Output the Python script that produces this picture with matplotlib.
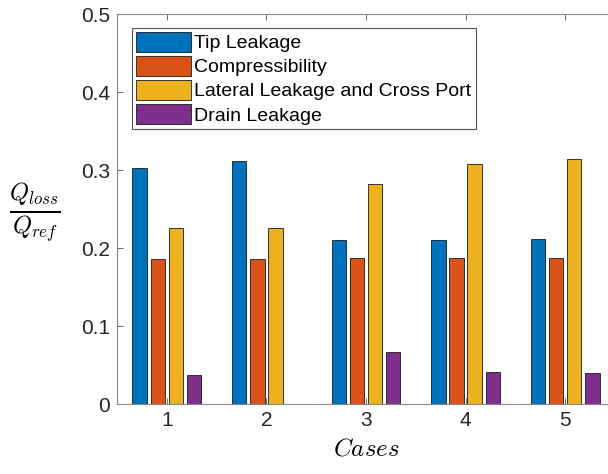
import matplotlib
matplotlib.use("Agg")
import matplotlib.pyplot as plt
import numpy as np

# data
cases = [1, 2, 3, 4, 5]
tipLeakage = [0.302, 0.312, 0.210, 0.210, 0.211]
compressibility = [0.1855, 0.1855, 0.187, 0.187, 0.187]
lateralCross = [0.226, 0.226, 0.282, 0.308, 0.314]
drainLeakage = [0.0376, 0.0005, 0.067, 0.0415, 0.040]
seriesNames = ["Tip Leakage", "Compressibility",
               "Lateral Leakage and Cross Port", "Drain Leakage"]

colors = ["#0072BD", "#D95319", "#EDB120", "#7E2F8E"]
axisColor = "#262626"

plt.rcParams['font.family'] = ['Liberation Sans', 'DejaVu Sans']
plt.rcParams['mathtext.fontset'] = 'cm'

fig = plt.figure(figsize=(6.08, 4.74), dpi=100)
# right edge intentionally just past the figure, like the cropped original
ax = fig.add_axes([117 / 608, 1 - 404 / 474, 498 / 608, 390 / 474])

allSeries = [tipLeakage, compressibility, lateralCross, drainLeakage]
nBars = len(allSeries)
groupWidth = min(0.8, nBars / (nBars + 1.5))
slot = groupWidth / nBars
barWidth = 0.8 * slot
x = np.array(cases, dtype=float)
for idx, (vals, name) in enumerate(zip(allSeries, seriesNames)):
    offset = (idx - (nBars - 1) / 2) * slot
    ax.bar(x + offset, vals, width=barWidth, color=colors[idx],
           edgecolor="#1a1a1a", linewidth=0.6, label=name, zorder=2)

ax.set_xlim(0.5, 5.5)
ax.set_ylim(0, 0.5)
ax.set_xticks(cases)
ax.set_yticks([0, 0.1, 0.2, 0.3, 0.4, 0.5])
ax.set_yticklabels(["0", "0.1", "0.2", "0.3", "0.4", "0.5"])
ax.tick_params(direction="in", length=4, width=0.6, colors="#555555",
               labelcolor=axisColor, labelsize=15, top=True, right=True, pad=5)
for side in ax.spines.values():
    side.set_color("#888888")
    side.set_linewidth(0.8)

ax.set_xlabel(r"$\mathit{Cases}$", fontsize=18, color="black", labelpad=5)
ax.set_ylabel(r"$\frac{Q_{loss}}{Q_{ref}}$", fontsize=25, rotation=0,
              color="black", labelpad=30, va="center")
ax.yaxis.set_label_coords(-0.165, 0.49)

leg = ax.legend(loc="upper left", bbox_to_anchor=(0.022, 0.975), fontsize=14,
                handlelength=2.8, handleheight=1.2, handletextpad=0.2,
                labelspacing=0.18, borderpad=0.22, borderaxespad=0.2,
                fancybox=False, framealpha=1)
leg.get_frame().set_edgecolor("#555555")
leg.get_frame().set_linewidth(0.8)

fig.savefig("out.png", dpi=100)
